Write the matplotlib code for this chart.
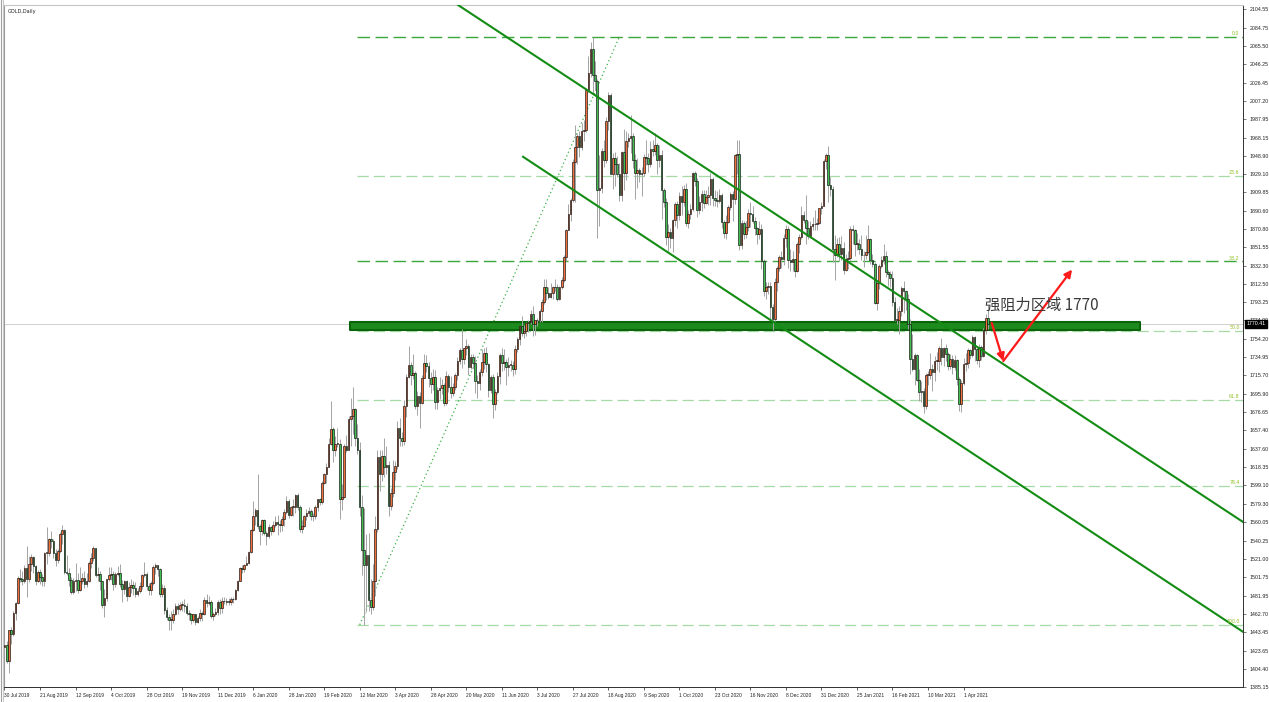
import matplotlib
matplotlib.use("Agg")
import matplotlib.pyplot as plt
from matplotlib.transforms import blended_transform_factory

plt.rcParams['font.family'] = ['Noto Sans CJK SC', 'DejaVu Sans']

# ---------------- data (daily candles, 30 Jul 2019 .. 19 Apr 2021) ----------------
opens = [
1427,1430,1413,1445,1441,1464,1474,1501,1500,1497,
1511,1500,1516,1523,1513,1497,1507,1502,1498,1527,
1527,1542,1540,1527,1520,1529,1547,1552,1507,1506,
1499,1486,1497,1499,1488,1498,1501,1494,1498,1517,
1522,1532,1504,1505,1497,1472,1479,1500,1504,1505,
1494,1505,1506,1494,1489,1498,1482,1491,1493,1490,
1484,1487,1492,1504,1505,1492,1488,1495,1512,1514,
1510,1484,1490,1467,1459,1456,1456,1463,1471,1468,
1472,1472,1471,1464,1462,1456,1462,1454,1458,1464,
1462,1477,1474,1475,1460,1462,1465,1475,1469,1476,
1476,1475,1475,1478,1478,1488,1498,1511,1510,1515,
1517,1528,1552,1566,1573,1556,1551,1562,1548,1545,
1555,1551,1557,1560,1558,1557,1563,1571,1582,1568,
1576,1576,1589,1576,1553,1556,1566,1570,1572,1566,
1566,1576,1584,1581,1602,1611,1619,1643,1659,1636,
1643,1643,1585,1587,1641,1637,1669,1673,1680,1649,
1636,1576,1530,1514,1525,1477,1470,1498,1553,1629,
1611,1630,1618,1621,1577,1591,1613,1620,1660,1649,
1646,1683,1714,1727,1716,1718,1683,1694,1686,1713,
1729,1726,1713,1707,1714,1687,1700,1702,1705,1686,
1715,1703,1697,1703,1716,1731,1743,1733,1745,1747,
1725,1735,1729,1710,1708,1719,1730,1740,1728,1700,
1714,1685,1698,1715,1737,1729,1730,1725,1727,1727,
1722,1744,1754,1768,1761,1763,1771,1772,1781,1770,
1775,1774,1784,1794,1809,1803,1799,1803,1809,1809,
1797,1809,1817,1841,1870,1887,1902,1942,1958,1970,
1958,1975,1976,2019,2037,2062,2035,2028,1912,1915,
1954,1944,1986,2013,1929,1946,1940,1929,1907,1953,
1930,1964,1968,1970,1944,1931,1934,1929,1931,1947,
1946,1940,1956,1954,1960,1944,1950,1912,1900,1863,
1868,1861,1881,1898,1886,1906,1900,1913,1877,1887,
1892,1930,1922,1891,1900,1908,1899,1905,1907,1924,
1904,1902,1901,1907,1878,1867,1879,1894,1908,1903,
1950,1951,1854,1877,1866,1873,1888,1887,1880,1872,
1866,1871,1837,1805,1810,1811,1788,1776,1815,1830,
1841,1839,1862,1871,1838,1836,1839,1827,1855,1863,
1886,1881,1872,1864,1874,1876,1876,1877,1893,1895,
1943,1950,1918,1913,1850,1844,1855,1845,1851,1828,
1839,1840,1871,1870,1855,1855,1850,1844,1843,1847,
1860,1838,1834,1793,1814,1832,1838,1842,1825,1823,
1819,1794,1775,1775,1784,1808,1805,1797,1770,1733,
1723,1737,1711,1698,1699,1683,1716,1716,1723,1719,
1731,1731,1745,1735,1745,1738,1726,1733,1725,1732,
1712,1685,1708,1728,1729,1743,1737,1756,1744,1732,
1746,1736,1764,1777]

highs = [
1433,1434,1446,1449,1466,1475,1503,1510,1508,1515,
1535,1524,1526,1524,1514,1509,1510,1505,1528,1555,
1543,1551,1542,1531,1531,1549,1557,1553,1525,1511,
1502,1501,1517,1506,1512,1506,1508,1506,1519,1527,
1535,1533,1512,1508,1498,1489,1500,1512,1512,1508,
1507,1513,1516,1499,1499,1499,1496,1500,1497,1496,
1490,1496,1505,1518,1507,1495,1497,1514,1517,1515,
1511,1494,1493,1470,1462,1466,1468,1474,1474,1475,
1476,1478,1474,1467,1464,1463,1462,1460,1468,1466,
1480,1484,1482,1477,1465,1469,1477,1478,1480,1480,
1479,1479,1480,1481,1489,1499,1512,1514,1516,1524,
1529,1553,1582,1575,1611,1558,1563,1563,1551,1558,
1556,1561,1566,1568,1562,1566,1574,1588,1584,1577,
1585,1590,1591,1578,1562,1568,1574,1576,1574,1570,
1578,1585,1586,1604,1612,1623,1649,1689,1661,1651,
1660,1648,1600,1643,1652,1673,1692,1703,1681,1664,
1645,1589,1575,1547,1548,1500,1516,1566,1636,1637,
1636,1649,1641,1625,1596,1626,1625,1667,1671,1656,
1690,1717,1747,1730,1738,1720,1699,1698,1716,1738,
1737,1730,1719,1722,1721,1703,1714,1712,1708,1720,
1717,1715,1708,1718,1735,1745,1765,1745,1754,1749,
1738,1738,1736,1716,1723,1744,1745,1746,1729,1716,
1717,1701,1719,1740,1745,1744,1733,1735,1732,1731,
1748,1756,1768,1779,1769,1772,1774,1785,1789,1775,
1777,1786,1797,1818,1818,1809,1814,1811,1818,1813,
1811,1820,1843,1871,1898,1904,1945,1981,1973,1975,
1984,1987,2021,2055,2070,2075,2049,2030,1950,1957,
1966,1990,2016,2015,1952,1953,1949,1941,1954,1977,
1975,1973,1992,1973,1951,1946,1936,1937,1951,1965,
1952,1964,1966,1973,1962,1960,1955,1915,1904,1876,
1872,1882,1900,1901,1910,1917,1918,1920,1891,1898,
1932,1933,1925,1906,1912,1912,1912,1917,1931,1926,
1912,1911,1913,1909,1881,1886,1897,1910,1911,1951,
1965,1966,1881,1880,1880,1892,1900,1895,1884,1873,
1880,1876,1839,1815,1815,1815,1791,1819,1832,1843,
1848,1866,1875,1874,1850,1848,1839,1857,1866,1896,
1890,1907,1880,1880,1884,1891,1883,1893,1900,1945,
1952,1959,1926,1917,1865,1862,1863,1864,1857,1845,
1848,1874,1875,1871,1867,1860,1865,1848,1865,1875,
1862,1845,1836,1815,1834,1842,1855,1848,1828,1827,
1826,1799,1787,1789,1811,1816,1806,1802,1776,1760,
1739,1738,1722,1710,1702,1718,1720,1739,1728,1736,
1741,1747,1755,1746,1749,1741,1738,1737,1737,1733,
1714,1711,1734,1740,1745,1744,1759,1758,1746,1749,
1748,1766,1781,1790]

lows = [
1420,1411,1400,1431,1439,1456,1473,1496,1493,1495,
1481,1496,1508,1506,1493,1496,1494,1492,1492,1516,
1524,1532,1522,1513,1517,1527,1537,1505,1504,1492,
1484,1484,1487,1485,1487,1494,1490,1491,1496,1511,
1519,1502,1497,1488,1469,1459,1476,1498,1499,1488,
1491,1503,1491,1475,1484,1476,1481,1485,1483,1481,
1482,1485,1489,1502,1488,1483,1483,1493,1505,1503,
1481,1481,1463,1456,1446,1445,1453,1461,1463,1466,
1466,1465,1461,1456,1452,1454,1451,1453,1455,1455,
1461,1470,1472,1458,1456,1460,1461,1462,1464,1473,
1472,1472,1472,1474,1477,1487,1497,1506,1507,1515,
1516,1527,1551,1557,1553,1536,1546,1546,1536,1543,
1546,1550,1555,1546,1550,1551,1556,1569,1564,1566,
1567,1570,1573,1549,1548,1555,1562,1566,1562,1561,
1563,1572,1578,1579,1600,1601,1618,1642,1624,1630,
1640,1563,1573,1586,1634,1636,1641,1653,1641,1632,
1567,1504,1451,1465,1466,1463,1467,1482,1550,1593,
1604,1608,1611,1567,1573,1587,1605,1616,1641,1641,
1642,1672,1713,1705,1712,1680,1674,1660,1685,1713,
1719,1703,1697,1700,1680,1680,1691,1696,1683,1684,
1698,1692,1694,1700,1711,1728,1724,1728,1737,1716,
1723,1724,1697,1692,1700,1715,1722,1719,1693,1697,
1670,1679,1696,1707,1720,1721,1705,1715,1720,1715,
1717,1741,1748,1757,1755,1758,1762,1770,1757,1759,
1768,1772,1772,1792,1796,1797,1798,1797,1805,1795,
1796,1807,1815,1837,1870,1880,1900,1900,1940,1947,
1955,1964,1974,2016,2032,2015,2019,1862,1874,1909,
1937,1941,1976,1929,1913,1917,1926,1901,1901,1912,
1923,1958,1952,1936,1903,1915,1921,1906,1927,1939,
1932,1937,1949,1950,1929,1937,1882,1894,1854,1848,
1851,1847,1874,1872,1881,1886,1895,1874,1872,1882,
1890,1917,1884,1887,1890,1893,1898,1897,1897,1895,
1896,1894,1899,1872,1862,1860,1877,1891,1880,1898,
1929,1849,1850,1860,1861,1869,1873,1877,1865,1855,
1860,1829,1800,1797,1802,1775,1764,1773,1805,1826,
1830,1833,1852,1830,1827,1826,1820,1825,1846,1860,
1877,1855,1860,1863,1870,1870,1870,1876,1887,1895,
1935,1900,1906,1836,1817,1841,1837,1838,1823,1826,
1829,1838,1855,1842,1849,1845,1838,1831,1839,1845,
1834,1831,1791,1785,1807,1830,1834,1820,1811,1810,
1789,1773,1770,1760,1779,1782,1785,1765,1717,1720,
1705,1710,1688,1687,1676,1680,1706,1712,1699,1710,
1721,1719,1727,1726,1731,1721,1722,1717,1721,1705,
1678,1677,1705,1720,1724,1733,1735,1731,1728,1725,
1732,1735,1760,1765]

closes = [
1430,1413,1445,1441,1464,1474,1501,1500,1497,1511,
1500,1516,1523,1513,1497,1507,1502,1498,1527,1527,
1542,1540,1527,1520,1529,1547,1552,1507,1506,1499,
1486,1497,1499,1488,1498,1501,1494,1498,1517,1522,
1532,1504,1505,1497,1472,1479,1500,1504,1505,1494,
1505,1506,1494,1489,1498,1482,1491,1493,1490,1484,
1487,1492,1504,1505,1492,1488,1495,1512,1514,1510,
1484,1490,1467,1459,1456,1456,1463,1471,1468,1472,
1472,1471,1464,1462,1456,1462,1454,1458,1464,1462,
1477,1474,1475,1460,1462,1465,1475,1469,1476,1476,
1475,1475,1478,1478,1488,1498,1511,1510,1515,1517,
1528,1552,1566,1573,1556,1551,1562,1548,1545,1555,
1551,1557,1560,1558,1557,1563,1571,1582,1568,1576,
1576,1589,1576,1553,1556,1566,1570,1572,1566,1566,
1576,1584,1581,1602,1611,1619,1643,1659,1636,1643,
1643,1585,1587,1641,1637,1669,1673,1680,1649,1636,
1576,1530,1514,1525,1477,1470,1498,1553,1629,1611,
1630,1618,1621,1577,1591,1613,1620,1660,1649,1646,
1683,1714,1727,1716,1718,1683,1694,1686,1713,1729,
1726,1713,1707,1714,1687,1700,1702,1705,1686,1715,
1703,1697,1703,1716,1731,1743,1733,1745,1747,1725,
1735,1729,1710,1708,1719,1730,1740,1728,1700,1714,
1685,1698,1715,1737,1729,1730,1725,1727,1727,1722,
1744,1754,1768,1761,1763,1771,1772,1781,1770,1775,
1774,1784,1794,1809,1803,1799,1803,1809,1809,1797,
1809,1817,1841,1870,1887,1902,1942,1958,1970,1958,
1975,1976,2019,2037,2062,2035,2028,1912,1915,1954,
1944,1986,2013,1929,1946,1940,1929,1907,1953,1930,
1964,1968,1970,1944,1931,1934,1929,1931,1947,1946,
1940,1956,1954,1960,1944,1950,1912,1900,1863,1868,
1861,1881,1898,1886,1906,1900,1913,1877,1887,1892,
1930,1922,1891,1900,1908,1899,1905,1907,1924,1904,
1902,1901,1907,1878,1867,1879,1894,1908,1903,1950,
1951,1854,1877,1866,1873,1888,1887,1880,1872,1866,
1871,1837,1805,1810,1811,1788,1776,1815,1830,1841,
1839,1862,1871,1838,1836,1839,1827,1855,1863,1886,
1881,1872,1864,1874,1876,1876,1877,1893,1895,1943,
1950,1918,1913,1850,1844,1855,1845,1851,1828,1839,
1840,1871,1870,1855,1855,1850,1844,1843,1847,1860,
1838,1834,1793,1814,1832,1838,1842,1825,1823,1819,
1794,1775,1775,1784,1808,1805,1797,1770,1733,1723,
1737,1711,1698,1699,1683,1716,1716,1723,1719,1731,
1731,1745,1735,1745,1738,1726,1733,1725,1732,1712,
1685,1708,1728,1729,1743,1737,1756,1744,1732,1746,
1736,1764,1777,1770]

date_labels = ["30 Jul 2019", "21 Aug 2019", "12 Sep 2019", "4 Oct 2019", "28 Oct 2019",
               "19 Nov 2019", "11 Dec 2019", "6 Jan 2020", "28 Jan 2020", "19 Feb 2020",
               "12 Mar 2020", "3 Apr 2020", "28 Apr 2020", "20 May 2020", "11 Jun 2020",
               "3 Jul 2020", "27 Jul 2020", "18 Aug 2020", "9 Sep 2020", "1 Oct 2020",
               "23 Oct 2020", "16 Nov 2020", "8 Dec 2020", "31 Dec 2020", "25 Jan 2021",
               "16 Feb 2021", "10 Mar 2021", "1 Apr 2021"]
label_step = 16

price_ticks = [2104.55, 2084.75, 2065.50, 2046.25, 2026.45, 2007.20, 1987.95, 1968.15,
               1948.90, 1929.10, 1909.85, 1890.60, 1870.80, 1851.55, 1832.30, 1812.50,
               1793.25, 1774.00, 1754.20, 1734.95, 1715.70, 1695.90, 1676.65, 1657.40,
               1637.60, 1618.35, 1599.10, 1579.30, 1560.05, 1540.25, 1521.00, 1501.75,
               1481.95, 1462.70, 1443.45, 1423.65, 1404.40, 1385.15]
last_price = 1770.41
chart_title = "GOLD,Daily"

fib_high = 2075.0
fib_low = 1451.0
fib_levels = [0.0, 23.6, 38.2, 50.0, 61.8, 76.4, 100.0]
fib_names = ["0.0", "23.6", "38.2", "50.0", "61.8", "76.4", "100.0"]
fib_strong = ["0.0", "38.2"]
fib_start_bar = 159
fib_anchor_bars = [160, 277]

channel_upper_bars = [204.3, 558]
channel_upper_prices = [2108.8, 1560.0]
channel_lower_bars = [233.6, 558]
channel_lower_prices = [1947.7, 1443.4]

zone_bars = [155.6, 511.5]
zone_low, zone_high = 1764.4, 1772.9

arrow_bars = [444.7, 449.9, 480.9]
arrow_prices = [1771.5, 1730.9, 1828.0]

note_text = "强阻力区域 1770"
note_bar, note_price = 441.7, 1789.9

# ---------------- figure ----------------
W, H = 1269, 702
fig = plt.figure(figsize=(W / 100, H / 100), dpi=100)
fig.patch.set_facecolor("white")
ax = fig.add_axes([4 / W, 1 - 687 / H, (1243 - 4) / W, (687 - 5) / H])
ax.set_facecolor("white")
ax.set_xlim(-0.225, 557.9)
ax.set_ylim(1385.0, 2108.8)

# window frame at the far left (double border of the terminal window)
frame = fig.add_axes([0, 0, 4 / W, 1])
frame.set_axis_off()
frame.axvline(0.2, color="#a0a0a0", lw=0.8)
frame.axvline(0.7, color="#c8c8c8", lw=0.8)

# current price line
ax.axhline(last_price, color="#c8c8c8", lw=0.6, zorder=1)

# fibonacci levels
xmax = ax.get_xlim()[1]
rng = fib_high - fib_low
for lvl, name in zip(fib_levels, fib_names):
    p = fib_high - rng * lvl / 100.0
    if name in fib_strong:
        col, lw = "#3aa83a", 1.0
    else:
        col, lw = "#a6dba6", 0.9
    ax.hlines(p, fib_start_bar, xmax, colors=col, linewidth=lw,
              linestyles=(0, (9, 4)), zorder=2)
    ax.text(xmax - 1.5, p + 1.0, name, ha="right", va="bottom", fontsize=3.4,
            color="#8fbf1f", family="DejaVu Sans", zorder=6)
ax.plot(fib_anchor_bars, [fib_low, fib_high], linestyle=(0, (1, 2.2)),
        color="#3cb043", lw=0.9, zorder=2)

# resistance zone
ax.fill_between(zone_bars, zone_low, zone_high, facecolor="#1d8a1d",
                edgecolor="#0a640a", linewidth=1.5, zorder=2.5)

# candles
n = len(closes)
xs = list(range(n))
ax.vlines(xs, lows, highs, colors="#a4a4a4", linewidth=0.7, zorder=3)
bottoms = [min(o, c) for o, c in zip(opens, closes)]
heights = [max(abs(c - o), 0.8) for o, c in zip(opens, closes)]
cols = ["#f0703c" if c >= o else "#3fbf4f" for o, c in zip(opens, closes)]
ax.bar(xs, heights, bottom=bottoms, width=0.72, color=cols,
       edgecolor="#0d0d0d", linewidth=0.45, zorder=4)

# channel
ax.plot(channel_upper_bars, channel_upper_prices, color="#138c13", lw=1.5, zorder=5)
ax.plot(channel_lower_bars, channel_lower_prices, color="#138c13", lw=1.5, zorder=5)

# red arrows
for i in range(2):
    ax.annotate("", xy=(arrow_bars[i + 1], arrow_prices[i + 1]),
                xytext=(arrow_bars[i], arrow_prices[i]),
                arrowprops=dict(arrowstyle="-|>", color="#ff1a1a", lw=1.6,
                                mutation_scale=11, shrinkA=0, shrinkB=0),
                zorder=7)

ax.text(note_bar, note_price, note_text, fontsize=11, color="#3a3a3a",
        ha="left", va="center", zorder=8)

ax.text(0.003, 0.994, chart_title, transform=ax.transAxes, fontsize=3.6,
        va="top", ha="left", family="DejaVu Sans", color="#222222")

# axes
ax.yaxis.tick_right()
ax.set_yticks(price_ticks)
ax.set_yticklabels([f"{p:.2f}" for p in price_ticks], fontsize=3.8,
                   family="Liberation Sans", color="#222222")
ax.tick_params(axis="y", length=2.5, width=0.5, pad=2, color="#444444")
ax.set_xticks([i * label_step for i in range(len(date_labels))])
ax.set_xticklabels(date_labels, ha="left", fontsize=3.5, family="Liberation Sans",
                   color="#222222")
ax.tick_params(axis="x", length=2.5, width=0.6, pad=1.5, color="#444444")

for s in ("right", "bottom"):
    ax.spines[s].set_color("#303030")
    ax.spines[s].set_linewidth(0.7)
ax.spines["left"].set_color("#9a9a9a")
ax.spines["top"].set_color("#c4c4c4")

# current price label box
trans = blended_transform_factory(ax.transAxes, ax.transData)
ax.text(1.003, last_price, f"{last_price:.2f}", transform=trans, ha="left",
        va="center", fontsize=3.8, color="white", family="Liberation Sans",
        bbox=dict(boxstyle="square,pad=0.3", fc="black", ec="black"), zorder=10)

fig.savefig("out.png", dpi=100)
